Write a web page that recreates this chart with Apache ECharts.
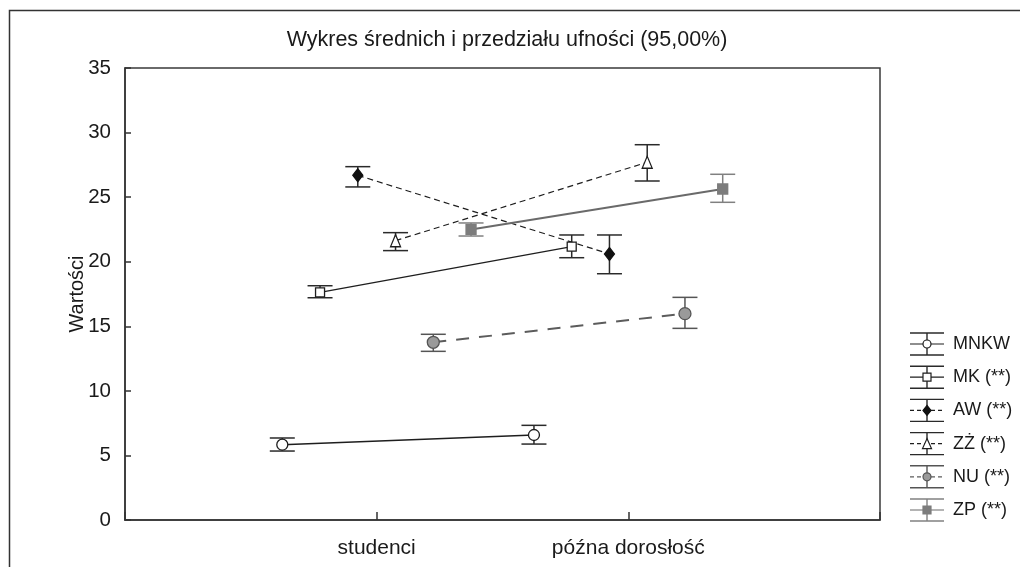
<!DOCTYPE html>
<html>
<head>
<meta charset="utf-8">
<title>Wykres średnich</title>
<script src="https://cdn.jsdelivr.net/npm/echarts@6/dist/echarts.min.js"></script>
<style>
  html, body { margin: 0; padding: 0; background: #fff; }
  #main { width: 1020px; height: 567px; }
</style>
</head>
<body>
<div id="main"></div>
<script>
// kategorie i serie
var categories = ['studenci', 'późna dorosłość'];
var seriesNames = ['MNKW', 'MK (**)', 'AW (**)', 'ZŻ (**)', 'NU (**)', 'ZP (**)'];
var offsets = [-0.375, -0.225, -0.075, 0.075, 0.225, 0.375];
var yTicks = [0, 5, 10, 15, 20, 25, 30, 35];

// średnie i przedziały ufności (dolna / górna granica)
var meanMNKW = [5.83, 6.58];
var lowMNKW = [5.34, 5.88];
var highMNKW = [6.35, 7.33];

var meanMK = [17.63, 21.17];
var lowMK = [17.21, 20.31];
var highMK = [18.14, 22.07];

var meanAW = [26.69, 20.6];
var lowAW = [25.79, 19.07];
var highAW = [27.36, 22.07];

var meanZZ = [21.63, 27.7];
var lowZZ = [20.86, 26.25];
var highZZ = [22.25, 29.06];

var meanNU = [13.76, 15.98];
var lowNU = [13.06, 14.84];
var highNU = [14.38, 17.24];

var meanZP = [22.5, 25.63];
var lowZP = [21.99, 24.6];
var highZP = [23.0, 26.77];

var means = [meanMNKW, meanMK, meanAW, meanZZ, meanNU, meanZP];
var lows = [lowMNKW, lowMK, lowAW, lowZZ, lowNU, lowZP];
var highs = [highMNKW, highMK, highAW, highZZ, highNU, highZP];

// wygląd serii
var looks = [
	{ line: '#1e1e1e', width: 1.4, type: 'solid', symbol: 'circle', size: 11, fill: '#fff', border: '#1e1e1e', bar: '#2a2a2a' },
	{ line: '#1e1e1e', width: 1.4, type: 'solid', symbol: 'rect', size: 9, fill: '#fff', border: '#1e1e1e', bar: '#2a2a2a' },
	{ line: '#1e1e1e', width: 1.2, type: [6, 4], symbol: 'diamond', size: [10, 13], fill: '#111', border: '#111', bar: '#2a2a2a' },
	{ line: '#1e1e1e', width: 1.2, type: [6, 4], symbol: 'triangle', size: [10, 12], fill: '#fff', border: '#1e1e1e', bar: '#2a2a2a' },
	{ line: '#5c5c5c', width: 2, type: [13, 10], symbol: 'circle', size: 12, fill: '#9a9a9a', border: '#555', bar: '#555' },
	{ line: '#6a6a6a', width: 2, type: 'solid', symbol: 'rect', size: 10, fill: '#7c7c7c', border: '#7c7c7c', bar: '#808080' }
];

var FONT = '"Liberation Sans", Arial, sans-serif';
var chart = echarts.init(document.getElementById('main'), null, { renderer: 'canvas' });

var series = [];
seriesNames.forEach(function (name, s) {
	var lk = looks[s];
	var barData = [];
	var lineData = [];
	for (var c = 0; c < categories.length; c++) {
		var x = c + 1 + offsets[s];
		barData.push([x, lows[s][c], highs[s][c]]);
		lineData.push([x, means[s][c]]);
	}
	series.push({
		name: name + ' bars',
		type: 'custom',
		z: 2,
		silent: true,
		data: barData,
		renderItem: function (params, api) {
			var top = api.coord([api.value(0), api.value(2)]);
			var bot = api.coord([api.value(0), api.value(1)]);
			var hw = 12.5;
			var st = { stroke: lk.bar, lineWidth: 1.5 };
			return {
				type: 'group',
				children: [
					{ type: 'line', shape: { x1: top[0], y1: top[1], x2: bot[0], y2: bot[1] }, style: st },
					{ type: 'line', shape: { x1: top[0] - hw, y1: top[1], x2: top[0] + hw, y2: top[1] }, style: st },
					{ type: 'line', shape: { x1: bot[0] - hw, y1: bot[1], x2: bot[0] + hw, y2: bot[1] }, style: st }
				]
			};
		}
	});
	series.push({
		name: name,
		type: 'line',
		z: 3,
		data: lineData,
		symbol: lk.symbol,
		symbolSize: lk.size,
		showAllSymbol: true,
		lineStyle: { color: lk.line, width: lk.width, type: lk.type },
		itemStyle: { color: lk.fill, borderColor: lk.border, borderWidth: 1.3 },
		emphasis: { disabled: true },
		animation: false
	});
});

// legenda rysowana ręcznie (znacznik z przedziałem)
var graphics = [{
	type: 'rect',
	shape: { x: 9.5, y: 10.5, width: 1200, height: 800 },
	style: { fill: 'none', stroke: '#333', lineWidth: 1.5 },
	silent: true
}];
var legX = 910, legW = 34, legY0 = 344, legStep = 33.2;
seriesNames.forEach(function (name, s) {
	var lk = looks[s];
	var cy = legY0 + s * legStep;
	var cx = legX + legW / 2;
	var st = { stroke: lk.bar, lineWidth: 1.4 };
	graphics.push({ type: 'line', shape: { x1: legX, y1: cy - 11, x2: legX + legW, y2: cy - 11 }, style: st, silent: true });
	graphics.push({ type: 'line', shape: { x1: legX, y1: cy + 11, x2: legX + legW, y2: cy + 11 }, style: st, silent: true });
	graphics.push({ type: 'line', shape: { x1: cx, y1: cy - 11, x2: cx, y2: cy + 11 }, style: st, silent: true });
	graphics.push({
		type: 'line', shape: { x1: legX, y1: cy, x2: legX + legW, y2: cy },
		style: { stroke: lk.line, lineWidth: 1.2, lineDash: lk.type === 'solid' ? null : [4, 3] }, silent: true
	});
	var mst = { fill: lk.fill, stroke: lk.border, lineWidth: 1.2 };
	var mk;
	if (lk.symbol === 'circle') {
		mk = { type: 'circle', shape: { cx: cx, cy: cy, r: 4 }, style: mst };
	} else if (lk.symbol === 'rect') {
		mk = { type: 'rect', shape: { x: cx - 4, y: cy - 4, width: 8, height: 8 }, style: mst };
	} else if (lk.symbol === 'diamond') {
		mk = { type: 'polygon', shape: { points: [[cx, cy - 5], [cx + 4, cy], [cx, cy + 5], [cx - 4, cy]] }, style: mst };
	} else {
		mk = { type: 'polygon', shape: { points: [[cx, cy - 5], [cx + 4.5, cy + 5], [cx - 4.5, cy + 5]] }, style: mst };
	}
	mk.silent = true;
	graphics.push(mk);
	graphics.push({
		type: 'text', x: 953, y: cy, silent: true,
		style: { text: name, fill: '#1a1a1a', font: '18px ' + FONT, verticalAlign: 'middle' }
	});
});

var option = {
	backgroundColor: '#fff',
	animation: false,
	textStyle: { fontFamily: FONT },
	title: {
		text: 'Wykres średnich i przedziału ufności (95,00%)',
		left: 502,
		top: 24,
		textAlign: 'center',
		textStyle: { fontSize: 21.5, fontWeight: 'normal', color: '#1a1a1a', fontFamily: FONT }
	},
	grid: {
		left: 125, right: 140, top: 68, bottom: 47,
		show: true, borderColor: '#3a3a3a', borderWidth: 1.5, backgroundColor: 'transparent'
	},
	xAxis: {
		type: 'value',
		min: 0, max: 3, interval: 1,
		axisLine: { show: true, lineStyle: { color: '#333', width: 1.5 } },
		axisTick: { show: true, inside: true, length: 8, lineStyle: { color: '#333', width: 1.5 } },
		splitLine: { show: false },
		axisLabel: {
			margin: 18,
			fontSize: 21,
			color: '#1a1a1a',
			formatter: function (v) {
				return categories[v - 1] || '';
			}
		}
	},
	yAxis: {
		type: 'value',
		min: yTicks[0], max: yTicks[yTicks.length - 1], interval: 5,
		name: 'Wartości',
		nameLocation: 'middle',
		nameGap: 38,
		nameMoveOverlap: false,
		nameTextStyle: { fontSize: 20, color: '#1a1a1a' },
		axisLine: { show: true, lineStyle: { color: '#333', width: 1.5 } },
		axisTick: { show: true, inside: true, length: 6, lineStyle: { color: '#333', width: 1.5 } },
		splitLine: { show: false },
		axisLabel: { margin: 14, fontSize: 20.5, color: '#1a1a1a' }
	},
	graphic: graphics,
	series: series
};

chart.setOption(option);
</script>
</body>
</html>
